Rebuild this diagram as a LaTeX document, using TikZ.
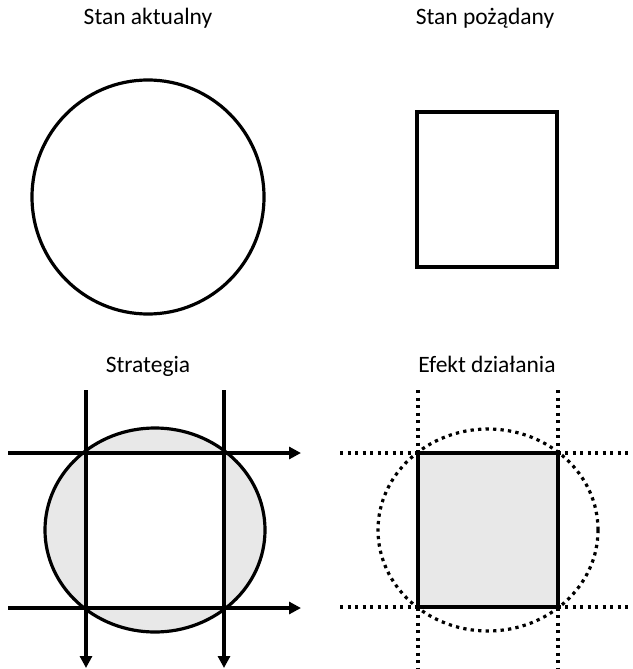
\documentclass[tikz,border=0pt]{standalone}
\usepackage{fontspec}
\setmainfont{Carlito}
\usetikzlibrary{arrows.meta}
\definecolor{lightfill}{HTML}{E8E8E8}
\begin{document}
\begin{tikzpicture}[x=1pt,y=-1pt,
  thickline/.style={line width=3.2pt},
  dotline/.style={line width=3.2pt, dash pattern=on 3.3pt off 4.2pt},
  titletext/.style={font=\fontsize{23.5}{26}\selectfont, inner sep=0pt, anchor=base},
  arr/.style={thickline, -{Triangle[length=12pt,width=12pt]}}]
\useasboundingbox (0,0) rectangle (632,669);
% titles
\node[titletext] (t1) at (148,25) {Stan aktualny};
\node[titletext] (t2) at (485,25) {Stan pożądany};
\node[titletext] (t3) at (148,372) {Strategia};
\node[titletext] (t4) at (487,372) {Efekt działania};
% top-left circle
\draw[thickline] (148,197) ellipse [x radius=116pt, y radius=117pt];
% top-right square
\draw[thickline] (417,112) rectangle (557,267);
% bottom-left: strategy
\fill[lightfill] (155,530) ellipse [x radius=110pt, y radius=102pt];
\fill[white] (86,453) rectangle (224,608);
\draw[thickline] (155,530) ellipse [x radius=110pt, y radius=102pt];
\coordinate (h1s) at (8,453);  \coordinate (h1e) at (301,453);
\coordinate (h2s) at (8,608);  \coordinate (h2e) at (301,608);
\coordinate (v1s) at (86,390); \coordinate (v1e) at (86,668);
\coordinate (v2s) at (224,390);\coordinate (v2e) at (224,668);
\draw[arr] (h1s) -- (h1e);
\draw[arr] (h2s) -- (h2e);
\draw[arr] (v1s) -- (v1e);
\draw[arr] (v2s) -- (v2e);
% bottom-right: effect
\fill[lightfill] (418,453) rectangle (558,607);
\draw[dotline] (488,530) ellipse [x radius=110pt, y radius=101pt];
\coordinate (d1s) at (340,453); \coordinate (d1e) at (632,453);
\coordinate (d2s) at (340,607); \coordinate (d2e) at (632,607);
\coordinate (e1s) at (418,390); \coordinate (e1e) at (418,669);
\coordinate (e2s) at (558,390); \coordinate (e2e) at (558,669);
\draw[dotline] (d1s) -- (d1e);
\draw[dotline] (d2s) -- (d2e);
\draw[dotline] (e1s) -- (e1e);
\draw[dotline] (e2s) -- (e2e);
\draw[thickline] (418,453) rectangle (558,607);
\end{tikzpicture}
\end{document}
